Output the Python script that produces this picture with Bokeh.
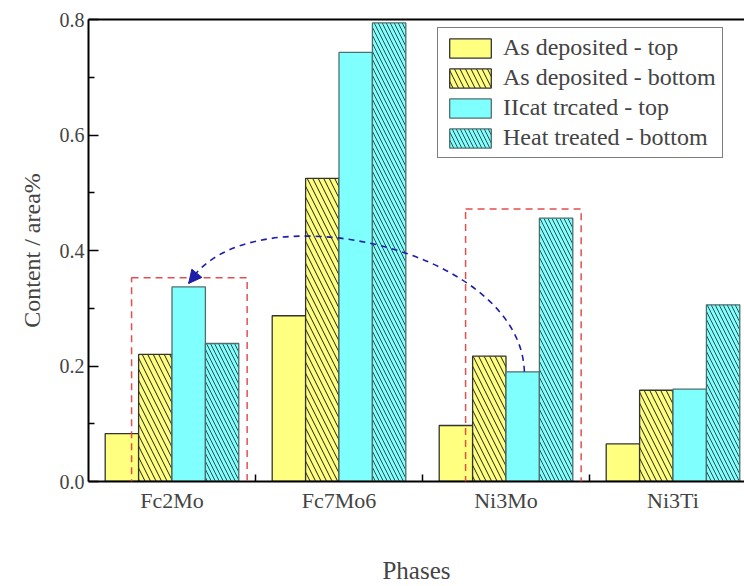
import numpy as np
from bokeh.plotting import figure
from bokeh.models import (Range1d, LinearAxis, FixedTicker, NumeralTickFormatter,
                          BoxAnnotation, Arrow, NormalHead, ColumnDataSource)
from bokeh.embed import file_html
from bokeh.resources import INLINE

# ---------------- data ----------------
phases = ["Fc2Mo", "Fc7Mo6", "Ni3Mo", "Ni3Ti"]
series_names = ["As deposited - top", "As deposited - bottom",
                "IIcat trcated - top", "Heat treated - bottom"]
as_dep_top = [0.083, 0.287, 0.097, 0.065]
as_dep_bottom = [0.220, 0.525, 0.217, 0.158]
heat_top = [0.337, 0.743, 0.190, 0.160]
heat_bottom = [0.239, 0.794, 0.456, 0.306]
y_ticks = [0.0, 0.2, 0.4, 0.6, 0.8]
y_minor = [0.1, 0.3, 0.5, 0.7]

# ---------------- styling ----------------
FONT = "Liberation Serif"
YELLOW = "#FFFF80"
CYAN = "#80FFFF"
series_vals = [as_dep_top, as_dep_bottom, heat_top, heat_bottom]
fills = [YELLOW, YELLOW, CYAN, CYAN]
hatches = [None, "\\", None, "\\"]
hatch_cols = ["#222222", "#222222", "#2F4F4F", "#2F4F4F"]
hatch_scales = [11, 11, 11, 8]
line_cols = ["#333333", "#333333", "#4F6F6F", "#4F6F6F"]
offsets = [-0.3, -0.1, 0.1, 0.3]
bar_w = 0.2

centers = np.arange(len(phases)) + 1.0

p = figure(width=744, height=586, output_backend="svg", toolbar_location=None,
           x_range=Range1d(0.5, 0.5 + 656 / 167), y_range=Range1d(0, 0.8),
           min_border_left=88, min_border_right=0, min_border_top=19,
           min_border_bottom=103)
p.outline_line_color = None
p.xgrid.visible = False
p.ygrid.visible = False
p.background_fill_color = "white"

for vals, name, fc, hp, hc, hs, lc, off in zip(series_vals, series_names, fills,
                                                hatches, hatch_cols, hatch_scales,
                                                line_cols, offsets):
    src = ColumnDataSource(dict(x=centers + off, top=vals))
    kw = {}
    if hp is not None:
        kw = dict(hatch_pattern=hp, hatch_color=hc, hatch_scale=hs, hatch_weight=1)
    p.vbar(x="x", top="top", width=bar_w, bottom=0, source=src,
           fill_color=fc, line_color=lc, line_width=1.3,
           legend_label=name, **kw)

# ---------------- axes ----------------
xa = p.xaxis[0]
xa.ticker = FixedTicker(ticks=list(centers),
                        minor_ticks=list(centers[:-1] + 0.5) + [centers[-1] + 0.5])
xa.major_label_overrides = {float(c): n for c, n in zip(centers, phases)}
xa.major_tick_line_color = None
xa.minor_tick_in = 7
xa.minor_tick_out = 0
xa.minor_tick_line_width = 1.5
xa.axis_line_width = 2
xa.major_label_text_font = FONT
xa.major_label_text_font_size = "22px"
xa.major_label_standoff = 0
xa.axis_label = "Phases"
xa.axis_label_text_font = FONT
xa.axis_label_text_font_style = "normal"
xa.axis_label_text_font_size = "25px"
xa.axis_label_standoff = 41

ya = p.yaxis[0]
ya.ticker = FixedTicker(ticks=y_ticks, minor_ticks=y_minor)
ya.formatter = NumeralTickFormatter(format="0.0")
ya.major_tick_in = 10
ya.major_tick_out = 0
ya.minor_tick_in = 6
ya.minor_tick_out = 0
ya.major_tick_line_width = 1.5
ya.minor_tick_line_width = 1.5
ya.axis_line_width = 2
ya.major_label_text_font = FONT
ya.major_label_text_font_size = "20px"
ya.major_label_standoff = 4
ya.axis_label = "Content / area%"
ya.axis_label_text_font = FONT
ya.axis_label_text_font_style = "normal"
ya.axis_label_text_font_size = "24px"
ya.axis_label_standoff = 12

top_axis = LinearAxis(ticker=FixedTicker(ticks=[]), axis_line_width=2,
                      major_label_text_color=None, major_tick_line_color=None,
                      minor_tick_line_color=None)
p.add_layout(top_axis, "above")

# ---------------- legend ----------------
lg = p.legend[0]
lg.location = (349, 323)
lg.margin = 0
lg.padding = 6
lg.spacing = 3
lg.glyph_width = 52
lg.glyph_height = 24
lg.label_standoff = 7
lg.label_text_font = FONT
lg.label_text_font_size = "24px"
lg.label_height = 24
lg.border_line_color = "black"
lg.border_line_width = 1
lg.background_fill_alpha = 1.0

# ---------------- annotations: dashed red boxes ----------------
for gi in (0, 2):
    c = centers[gi]
    grp_max = max(as_dep_bottom[gi], heat_top[gi], heat_bottom[gi])
    box = BoxAnnotation(left=c - 0.242, right=c + 0.45,
                        bottom=-0.012, top=grp_max + 0.016,
                        fill_alpha=0, line_color="#E03C3C", line_width=1.5,
                        line_dash="7 5", line_alpha=0.9)
    p.add_layout(box)

# ---------------- annotation: curved dashed blue arrow ----------------
BLUE = "#1E1EA8"
x0, y0 = centers[2] + 0.11, heat_top[2]
x1, y1 = centers[0] + 0.10, heat_top[0] + 0.006
cx0, cy0 = 3.087, 0.409
cx1, cy1 = 1.44, 0.507
p.bezier(x0=[x0], y0=[y0], x1=[x1], y1=[y1], cx0=[cx0], cy0=[cy0],
         cx1=[cx1], cy1=[cy1], line_color=BLUE, line_width=1.6,
         line_dash="6 5")
t = 0.94
bx = (1 - t) ** 3 * x0 + 3 * (1 - t) ** 2 * t * cx0 + 3 * (1 - t) * t ** 2 * cx1 + t ** 3 * x1
by = (1 - t) ** 3 * y0 + 3 * (1 - t) ** 2 * t * cy0 + 3 * (1 - t) * t ** 2 * cy1 + t ** 3 * y1
p.add_layout(Arrow(end=NormalHead(size=13, fill_color=BLUE, line_color=BLUE),
                   x_start=bx, y_start=by, x_end=x1, y_end=y1,
                   line_color=None))

open("out.html", "w").write(file_html(p, INLINE))
